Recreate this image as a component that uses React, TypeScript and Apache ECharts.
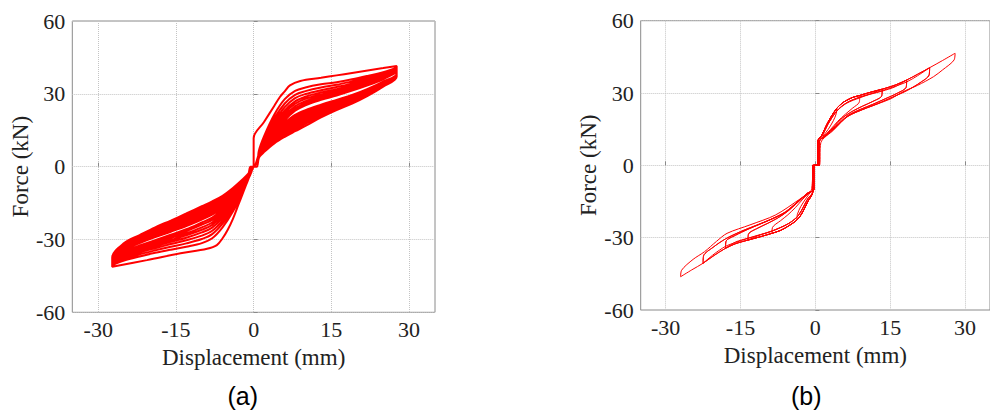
import React, { useEffect, useRef } from "react";
import * as echarts from "echarts";

type P = [number, number];

// ---------------- Tick labels ----------------
const xTickValues = [-30, -15, 0, 15, 30];
const yTickValues = [-60, -30, 0, 30, 60];

// ---------------- Panel (a): repeated cycles at ~27.5 mm ----------------
const aGridPos = [1, 2, 4, 6, 8, 10, 13, 16, 19, 22, 25, 27.6];
const aGridNeg = [-1, -2, -4, -6, -8, -10, -13, -16, -19, -22, -25, -27.3];

// first (virgin) loading paths
const aFirstLoadPos: P[] = [[0, 0], [0, 11.7], [2, 18.4], [4, 25.1], [5.1, 28.8], [6, 31.0], [7, 33.5], [9, 35.3], [13, 36.6], [16, 37.6], [19, 38.6], [22, 39.6], [25, 40.6], [27.6, 41.5]];
const aFirstLoadNeg: P[] = [[-0.3, -1], [-1, -5], [-2, -10.5], [-3, -16], [-4, -21.5], [-5, -26], [-6, -29.5], [-7.1, -32.3], [-9, -33.8], [-14.1, -35.7], [-20.6, -38.5], [-27.3, -41.2]];

// loading branches (positive side) of later cycles, on aGridPos
const aLoadPos2 = [6.5, 12.5, 21.5, 27.8, 31.2, 32.6, 33.9, 34.8, 36.0, 37.4, 38.9, 40.8];
const aLoadPos3 = [5.9, 11.4, 19.9, 26.0, 29.6, 31.1, 32.6, 33.7, 35.1, 36.6, 38.3, 40.4];
const aLoadPos4 = [5.4, 10.5, 18.5, 24.5, 28.2, 29.9, 31.5, 32.8, 34.3, 36.0, 37.8, 40.1];
const aLoadPos5 = [4.9, 9.6, 17.3, 23.2, 26.9, 28.8, 30.6, 31.9, 33.6, 35.4, 37.4, 39.8];
const aLoadPos6 = [4.5, 8.9, 16.3, 22.1, 25.9, 27.9, 29.7, 31.2, 32.9, 34.9, 37.0, 39.5];
const aLoadPos7 = [4.2, 8.3, 15.3, 21.0, 24.9, 27.0, 29.0, 30.6, 32.4, 34.4, 36.7, 39.3];
const aLoadPos8 = [3.8, 7.6, 14.4, 20.0, 23.9, 26.1, 28.2, 29.9, 31.8, 33.9, 36.3, 39.0];
const aLoadPos9 = [3.5, 7.0, 13.5, 19.0, 23.0, 25.3, 27.5, 29.3, 31.3, 33.5, 36.0, 38.8];

// unloading branches (positive side), on aGridPos
const aUnloadPos1 = [3.8, 6.0, 9.6, 12.3, 14.6, 16.8, 20.3, 23.3, 26.0, 29.2, 33.0, 37.0];
const aUnloadPos2 = [4.0, 6.4, 10.2, 13.1, 15.5, 17.7, 21.0, 23.9, 26.5, 29.6, 33.3, 37.2];
const aUnloadPos3 = [4.1, 6.7, 10.8, 13.8, 16.4, 18.6, 21.7, 24.4, 26.9, 29.9, 33.5, 37.3];
const aUnloadPos4 = [4.3, 7.0, 11.3, 14.5, 17.2, 19.3, 22.3, 24.9, 27.4, 30.3, 33.8, 37.5];
const aUnloadPos5 = [4.4, 7.3, 11.8, 15.2, 18.0, 20.1, 22.9, 25.4, 27.8, 30.6, 34.0, 37.6];
const aUnloadPos6 = [4.6, 7.6, 12.4, 15.9, 18.8, 20.9, 23.6, 25.9, 28.2, 31.0, 34.3, 37.8];
const aUnloadPos7 = [4.7, 7.9, 12.9, 16.6, 19.6, 21.7, 24.2, 26.5, 28.6, 31.3, 34.5, 37.9];
const aUnloadPos8 = [4.9, 8.2, 13.5, 17.3, 20.5, 22.5, 24.9, 27.0, 29.1, 31.7, 34.8, 38.1];
const aUnloadPos9 = [5.0, 8.5, 14.0, 18.0, 21.3, 23.3, 25.5, 27.5, 29.5, 32.0, 35.0, 38.2];

// loading branches (negative side) of later cycles, on aGridNeg
const aLoadNeg2 = [-5.0, -10.0, -18.5, -25.0, -29.5, -31.5, -33.0, -34.2, -35.5, -37.0, -38.7, -40.6];
const aLoadNeg3 = [-4.6, -9.3, -17.3, -23.5, -27.8, -29.8, -31.6, -33.0, -34.5, -36.1, -38.0, -40.2];
const aLoadNeg4 = [-4.3, -8.7, -16.3, -22.2, -26.4, -28.4, -30.3, -31.9, -33.6, -35.3, -37.3, -39.9];
const aLoadNeg5 = [-4.0, -8.2, -15.4, -21.1, -25.1, -27.1, -29.3, -31.0, -32.8, -34.7, -36.8, -39.6];
const aLoadNeg6 = [-3.7, -7.7, -14.6, -20.1, -24.0, -26.0, -28.3, -30.2, -32.1, -34.1, -36.3, -39.3];
const aLoadNeg7 = [-3.5, -7.3, -13.9, -19.2, -23.0, -25.0, -27.5, -29.4, -31.5, -33.5, -35.9, -39.1];
const aLoadNeg8 = [-3.2, -6.9, -13.2, -18.3, -21.9, -23.9, -26.6, -28.7, -30.9, -33.0, -35.4, -38.8];
const aLoadNeg9 = [-3.0, -6.5, -12.5, -17.5, -21.0, -23.0, -25.8, -28.0, -30.3, -32.5, -35.0, -38.6];

// unloading branches (negative side), on aGridNeg
const aUnloadNeg1 = [-2.8, -5.0, -8.8, -12.0, -14.3, -16.3, -19.3, -22.2, -25.0, -28.2, -31.5, -37.5];
const aUnloadNeg2 = [-3.0, -5.4, -9.4, -12.7, -15.1, -17.1, -20.0, -22.8, -25.6, -28.7, -31.9, -37.6];
const aUnloadNeg3 = [-3.3, -5.8, -9.9, -13.4, -15.8, -17.8, -20.7, -23.4, -26.1, -29.1, -32.3, -37.7];
const aUnloadNeg4 = [-3.5, -6.2, -10.4, -14.0, -16.4, -18.4, -21.3, -24.0, -26.6, -29.5, -32.7, -37.8];
const aUnloadNeg5 = [-3.7, -6.5, -10.9, -14.6, -17.1, -19.1, -21.9, -24.5, -27.0, -29.9, -33.0, -37.9];
const aUnloadNeg6 = [-3.9, -6.9, -11.4, -15.2, -17.8, -19.8, -22.6, -25.1, -27.5, -30.3, -33.4, -38.0];
const aUnloadNeg7 = [-4.1, -7.3, -11.9, -15.8, -18.4, -20.4, -23.2, -25.7, -28.0, -30.7, -33.8, -38.1];
const aUnloadNeg8 = [-4.3, -7.6, -12.5, -16.4, -19.1, -21.1, -23.9, -26.2, -28.5, -31.1, -34.1, -38.2];
const aUnloadNeg9 = [-4.5, -8.0, -13.0, -17.0, -19.8, -21.8, -24.5, -26.8, -29.0, -31.5, -34.5, -38.3];

// ---------------- Panel (b): increasing amplitude cycles ----------------
const bSkeletonPos: P[] = [[0.5, 0], [0.5, 10.0], [1.3, 12.5], [2.1, 16.1], [3.0, 19.6], [4.3, 23.7], [5.5, 26.0], [6.3, 27.0], [7.5, 28.2], [8.9, 29.0], [11.0, 30.3], [13.4, 31.6], [16.0, 33.3], [18.3, 35.4], [20.5, 37.8], [22.9, 40.5], [25.5, 43.5], [28.0, 46.5]];
const bSkeletonNeg: P[] = [[-0.5, 0], [-0.5, -10.9], [-1.5, -15.0], [-2.8, -20.3], [-3.7, -22.7], [-5.5, -25.3], [-7.0, -27.0], [-8.7, -28.2], [-11.0, -29.6], [-13.5, -31.0], [-16.0, -32.5], [-18.0, -34.4], [-20.3, -37.4], [-22.5, -40.6], [-24.8, -43.4], [-27.0, -46.2]];
const bAmpPos = [4.3, 8.9, 13.4, 18.3, 22.9, 28.0];
const bAmpNeg = [-3.7, -8.7, -13.5, -18.0, -22.5, -27.0];

const bUnloadPos1: P[] = [[4.2, 21.5], [3.6, 18.5], [2.6, 15.0], [1.5, 12.0], [0.8, 10.0], [0.8, 0]];
const bUnloadPos2: P[] = [[8.8, 26.2], [7.5, 23.8], [6.0, 21.2], [4.5, 18.3], [3.0, 14.8], [1.6, 11.8], [0.8, 10.0], [0.8, 0]];
const bUnloadPos3: P[] = [[13.3, 28.8], [11.5, 26.5], [9.5, 24.6], [7.5, 22.5], [5.5, 19.8], [3.5, 15.5], [1.8, 12.0], [0.8, 10.0], [0.8, 0]];
const bUnloadPos4: P[] = [[18.2, 32.4], [16.5, 30.0], [14.0, 27.6], [11.5, 25.3], [9.0, 23.2], [6.5, 20.6], [4.0, 16.0], [2.0, 12.3], [0.8, 10.0], [0.8, 0]];
const bUnloadPos5: P[] = [[22.8, 37.5], [21.0, 34.3], [18.5, 31.2], [15.5, 28.3], [12.5, 25.6], [9.5, 23.2], [6.5, 20.3], [4.0, 15.6], [2.0, 12.0], [0.8, 10.0], [0.8, 0]];
const bUnloadPos6: P[] = [[27.8, 43.7], [25.5, 39.6], [23.7, 36.8], [20.5, 33.2], [17.3, 30.3], [15.3, 27.8], [12.5, 25.5], [10.2, 23.7], [6.3, 20.2], [3.7, 14.7], [1.1, 9.4], [0.8, 0]];

const bUnloadNeg1: P[] = [[-3.6, -20.3], [-2.9, -17.0], [-1.8, -13.5], [-0.9, -11.0], [-0.3, -10.0], [-0.3, 0]];
const bUnloadNeg2: P[] = [[-8.6, -25.8], [-7.0, -23.0], [-5.5, -20.5], [-4.0, -17.5], [-2.5, -14.0], [-1.2, -11.3], [-0.3, -10.0], [-0.3, 0]];
const bUnloadNeg3: P[] = [[-13.4, -28.5], [-11.5, -26.0], [-9.5, -24.0], [-7.5, -21.8], [-5.5, -19.0], [-3.5, -15.3], [-1.6, -11.8], [-0.3, -10.0], [-0.3, 0]];
const bUnloadNeg4: P[] = [[-17.9, -31.5], [-16.0, -29.0], [-13.5, -26.5], [-11.0, -24.3], [-8.5, -22.0], [-6.0, -19.3], [-3.5, -15.0], [-1.6, -11.6], [-0.3, -10.0], [-0.3, 0]];
const bUnloadNeg5: P[] = [[-22.4, -37.5], [-20.5, -34.0], [-18.0, -30.5], [-15.0, -27.5], [-12.0, -25.0], [-9.0, -22.5], [-6.0, -19.5], [-3.5, -15.0], [-1.5, -11.4], [-0.3, -10.0], [-0.3, 0]];
const bUnloadNeg6: P[] = [[-26.8, -43.5], [-24.5, -39.0], [-22.2, -35.8], [-19.8, -31.5], [-17.7, -28.2], [-13.1, -24.7], [-8.0, -20.6], [-3.4, -14.4], [-0.8, -10.2], [-0.5, 0]];

// repeated (second) cycles at the middle amplitudes: reloading paths
const bReloadPos3: P[] = [[0.5, 0], [0.5, 10.0], [1.5, 12.8], [2.5, 17.0], [4.3, 22.5], [6.3, 25.8], [8.9, 28.0], [11.0, 29.6], [13.4, 31.6]];
const bReloadPos4: P[] = [[0.5, 0], [0.5, 10.0], [1.5, 12.8], [2.5, 17.0], [4.3, 22.6], [6.3, 26.0], [8.9, 28.3], [11.0, 29.5], [13.4, 30.8], [16.0, 32.6], [18.3, 35.4]];
const bReloadPos5: P[] = [[0.5, 0], [0.5, 10.0], [1.5, 12.8], [2.5, 17.0], [4.3, 22.6], [6.3, 26.0], [8.9, 28.3], [11.0, 29.6], [13.4, 31.0], [16.0, 32.8], [18.3, 34.6], [20.5, 37.2], [22.9, 40.5]];
const bReloadNeg3: P[] = [[-0.5, 0], [-0.5, -10.9], [-1.5, -13.8], [-2.8, -18.8], [-3.7, -21.5], [-5.5, -24.3], [-8.7, -27.2], [-11.0, -28.8], [-13.5, -31.0]];
const bReloadNeg4: P[] = [[-0.5, 0], [-0.5, -10.9], [-1.5, -13.8], [-2.8, -18.8], [-3.7, -21.5], [-5.5, -24.3], [-8.7, -27.3], [-11.0, -28.7], [-13.5, -30.2], [-16.0, -31.8], [-18.0, -34.4]];
const bReloadNeg5: P[] = [[-0.5, 0], [-0.5, -10.9], [-1.5, -13.8], [-2.8, -18.8], [-3.7, -21.5], [-5.5, -24.3], [-8.7, -27.3], [-11.0, -28.8], [-13.5, -30.3], [-16.0, -32.0], [-18.0, -33.6], [-20.3, -36.8], [-22.5, -40.6]];

// ---------------- build paths ----------------
function buildA(): P[] {
  const loadPos = [aLoadPos2, aLoadPos3, aLoadPos4, aLoadPos5, aLoadPos6, aLoadPos7, aLoadPos8, aLoadPos9];
  const unloadPos = [aUnloadPos1, aUnloadPos2, aUnloadPos3, aUnloadPos4, aUnloadPos5, aUnloadPos6, aUnloadPos7, aUnloadPos8, aUnloadPos9];
  const loadNeg = [aLoadNeg2, aLoadNeg3, aLoadNeg4, aLoadNeg5, aLoadNeg6, aLoadNeg7, aLoadNeg8, aLoadNeg9];
  const unloadNeg = [aUnloadNeg1, aUnloadNeg2, aUnloadNeg3, aUnloadNeg4, aUnloadNeg5, aUnloadNeg6, aUnloadNeg7, aUnloadNeg8, aUnloadNeg9];
  const pts: P[] = [];
  for (let c = 0; c < unloadPos.length; c++) {
    if (c === 0) aFirstLoadPos.forEach((p) => pts.push(p));
    else {
      pts.push([0.6, 0]);
      aGridPos.forEach((x, i) => pts.push([x, loadPos[c - 1][i]]));
    }
    for (let i = aGridPos.length - 1; i >= 0; i--) pts.push([aGridPos[i], unloadPos[c][i]]);
    pts.push([0, 0], [-0.6, 0]);
    if (c === 0) aFirstLoadNeg.forEach((p) => pts.push(p));
    else aGridNeg.forEach((x, i) => pts.push([x, loadNeg[c - 1][i]]));
    for (let i = aGridNeg.length - 1; i >= 0; i--) pts.push([aGridNeg[i], unloadNeg[c][i]]);
    pts.push([0, 0]);
  }
  return pts;
}

function buildB(): P[] {
  const unloadPos = [bUnloadPos1, bUnloadPos2, bUnloadPos3, bUnloadPos4, bUnloadPos5, bUnloadPos6];
  const unloadNeg = [bUnloadNeg1, bUnloadNeg2, bUnloadNeg3, bUnloadNeg4, bUnloadNeg5, bUnloadNeg6];
  const reloadPos: (P[] | null)[] = [null, null, bReloadPos3, bReloadPos4, bReloadPos5, null];
  const reloadNeg: (P[] | null)[] = [null, null, bReloadNeg3, bReloadNeg4, bReloadNeg5, null];
  const pts: P[] = [[0, 0]];
  for (let k = 0; k < bAmpPos.length; k++) {
    bSkeletonPos.filter((p) => p[0] <= bAmpPos[k] + 1e-6).forEach((p) => pts.push(p));
    unloadPos[k].forEach((p) => pts.push(p));
    bSkeletonNeg.filter((p) => p[0] >= bAmpNeg[k] - 1e-6).forEach((p) => pts.push(p));
    unloadNeg[k].forEach((p) => pts.push(p));
    const rp = reloadPos[k];
    const rn = reloadNeg[k];
    if (rp && rn) {
      rp.forEach((p) => pts.push(p));
      unloadPos[k].forEach((p) => pts.push(p));
      rn.forEach((p) => pts.push(p));
      unloadNeg[k].forEach((p) => pts.push(p));
    }
  }
  return pts;
}

const SERIF = "'Liberation Serif', 'Times New Roman', serif";
const SANS = "'Liberation Sans', Arial, sans-serif";
const TEXT = "#222222";
const AXIS = "#8a8a8a";
const GRIDLINE = "#c4c4c4";

function makeX(gridIndex: number) {
  return {
    type: "value",
    gridIndex,
    min: -35,
    max: 35,
    name: "Displacement (mm)",
    nameLocation: "middle",
    nameGap: 34,
    nameTextStyle: { fontFamily: SERIF, fontSize: 23, color: TEXT },
    axisLine: { show: false },
    axisTick: { show: true, inside: true, length: 4, customValues: xTickValues, lineStyle: { color: AXIS } },
    axisLabel: { customValues: xTickValues, margin: 6, fontFamily: SERIF, fontSize: 22, color: TEXT },
    splitLine: { show: true, lineStyle: { type: "dotted", color: GRIDLINE, width: 1 } },
  };
}

function makeY(gridIndex: number) {
  return {
    type: "value",
    gridIndex,
    min: yTickValues[0],
    max: yTickValues[yTickValues.length - 1],
    interval: 30,
    name: "Force (kN)",
    nameLocation: "middle",
    nameGap: 38,
    nameTextStyle: { fontFamily: SERIF, fontSize: 23, color: TEXT },
    axisLine: { show: false },
    axisTick: { show: true, inside: true, length: 4, lineStyle: { color: AXIS } },
    axisLabel: { margin: 7, fontFamily: SERIF, fontSize: 22, color: TEXT },
    splitLine: { show: true, lineStyle: { type: "dotted", color: GRIDLINE, width: 1 } },
  };
}

export default function App() {
  const ref = useRef<HTMLDivElement>(null);
  useEffect(() => {
    if (!ref.current) return;
    const chart = echarts.init(ref.current, undefined, { renderer: "svg" });
    chart.setOption({
      animation: false,
      backgroundColor: "#ffffff",
      grid: [
        { left: 72.3, top: 21, width: 362.7, height: 291.3, show: true, borderColor: AXIS, borderWidth: 1, backgroundColor: "transparent" },
        { left: 640.7, top: 20.7, width: 360.5, height: 289.3, show: true, borderColor: AXIS, borderWidth: 1, backgroundColor: "transparent" },
      ],
      xAxis: [makeX(0), makeX(1)],
      yAxis: [makeY(0), makeY(1)],
      series: [
        {
          type: "line", xAxisIndex: 0, yAxisIndex: 0, data: buildA(), showSymbol: false, symbol: "none",
          smooth: 0.35, lineStyle: { color: "#ff0000", width: 2 }, clip: true,
        },
        {
          type: "line", xAxisIndex: 1, yAxisIndex: 1, data: buildB(), showSymbol: false, symbol: "none",
          smooth: 0.3, lineStyle: { color: "#ff0000", width: 1 }, clip: true,
        },
      ],
      graphic: [
        { type: "text", left: 243.5 - 16, top: 383, style: { text: "(a)", font: `25px ${SANS}`, fill: "#000" } },
        { type: "text", left: 808 - 17, top: 383, style: { text: "(b)", font: `25px ${SANS}`, fill: "#000" } },
      ],
    });
    return () => chart.dispose();
  }, []);
  return <div ref={ref} style={{ position: "absolute", left: 0, top: 0, width: 990, height: 412 }} />;
}
